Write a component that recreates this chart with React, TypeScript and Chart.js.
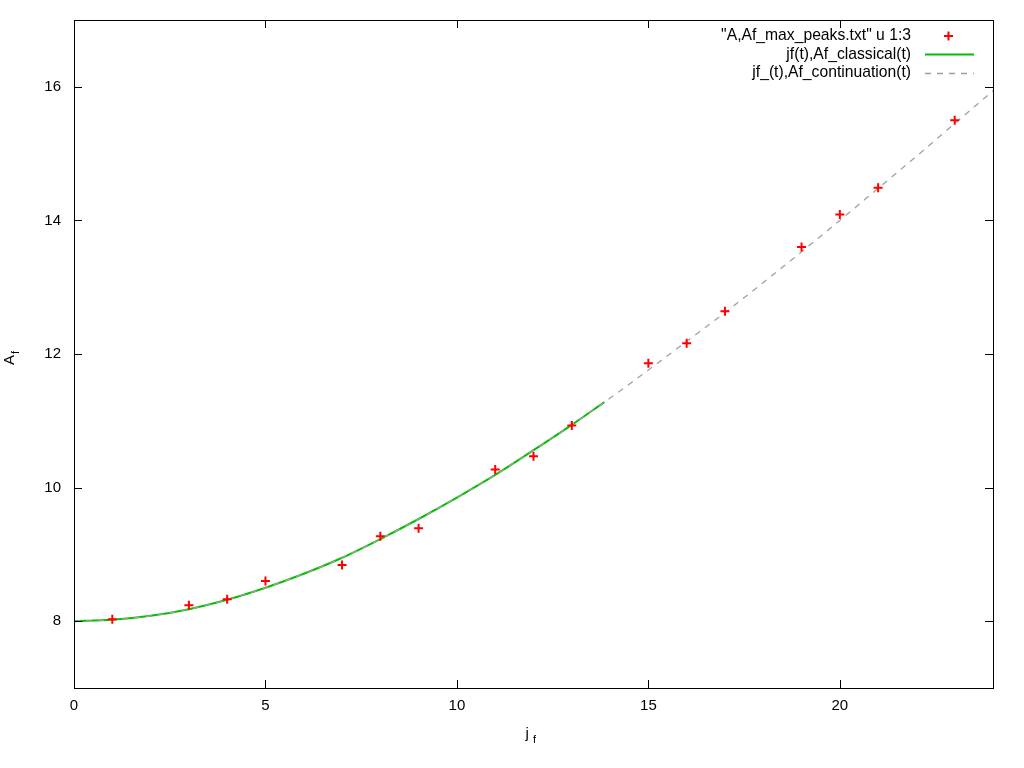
import React, { useEffect, useRef } from "react";
import { Chart, registerables } from "chart.js";

Chart.register(...registerables);

// Data
const PEAK_J = [1, 3, 4, 5, 7, 8, 9, 11, 12, 13, 15, 16, 17, 19, 20, 21, 23];
const PEAK_A = [8.03, 8.24, 8.33, 8.6, 8.84, 9.27, 9.39, 10.27, 10.47, 10.93, 11.86, 12.16, 12.64, 13.6, 14.09, 14.49, 15.5];

const CLASSICAL_J = [0, 1, 2, 3, 4, 5, 6, 7, 8, 9, 10, 11, 12, 13, 13.85];
const CLASSICAL_A = [8.0, 8.02, 8.08, 8.18, 8.32, 8.5, 8.71, 8.95, 9.23, 9.53, 9.85, 10.19, 10.56, 10.94, 11.28];

const CONT_J = [0, 1, 2, 3, 4, 5, 6, 7, 8, 9, 10, 11, 12, 13, 14, 15, 16, 17, 18, 19, 20, 21, 22, 23, 24];
const CONT_A = [8.0, 8.02, 8.08, 8.18, 8.32, 8.5, 8.71, 8.95, 9.23, 9.53, 9.85, 10.19, 10.56, 10.94, 11.34, 11.76, 12.19, 12.62, 13.07, 13.53, 14.0, 14.48, 14.96, 15.45, 15.94];

const X_TICKS = [0, 5, 10, 15, 20];
const Y_TICKS = [8, 10, 12, 14, 16];

const SERIES_LABELS = ['"A,Af_max_peaks.txt" u 1:3', "jf(t),Af_classical(t)", "jf_(t),Af_continuation(t)"];

const FONT = '"Liberation Sans", Arial, sans-serif';
const RED = "#ff0000";
const GREEN = "#00c000";
const GRAY = "#a0a0a0";
const DASH = [6, 6];

const gnuplotFrame = {
  id: "gnuplotFrame",
  afterDraw(chart: any) {
    const ctx: CanvasRenderingContext2D = chart.ctx;
    const { left, right, top, bottom } = chart.chartArea;
    const xs = chart.scales.x;
    const ys = chart.scales.y;
    ctx.save();
    ctx.strokeStyle = "#000";
    ctx.lineWidth = 1;
    ctx.setLineDash([]);
    // border
    ctx.strokeRect(Math.round(left) + 0.5, Math.round(top) + 0.5, Math.round(right - left), Math.round(bottom - top));
    // inward ticks on all sides
    const TL = 8;
    ctx.beginPath();
    for (const v of X_TICKS) {
      const px = Math.round(xs.getPixelForValue(v)) + 0.5;
      ctx.moveTo(px, bottom);
      ctx.lineTo(px, bottom - TL);
      ctx.moveTo(px, top);
      ctx.lineTo(px, top + TL);
    }
    for (const v of Y_TICKS) {
      const py = Math.round(ys.getPixelForValue(v)) + 0.5;
      ctx.moveTo(left, py);
      ctx.lineTo(left + TL, py);
      ctx.moveTo(right, py);
      ctx.lineTo(right - TL, py);
    }
    ctx.stroke();

    // axis titles
    ctx.fillStyle = "#000";
    ctx.textBaseline = "alphabetic";
    ctx.textAlign = "left";
    ctx.font = `15px ${FONT}`;
    const cx = (left + right) / 2;
    ctx.fillText("j", cx - 8, 738);
    ctx.font = `11px ${FONT}`;
    ctx.fillText("f", cx - 0.5, 743);

    ctx.save();
    ctx.translate(14, 365);
    ctx.rotate(-Math.PI / 2);
    ctx.font = `15px ${FONT}`;
    ctx.fillText("A", 0, 0);
    ctx.font = `11px ${FONT}`;
    ctx.fillText("f", 11, 5);
    ctx.restore();

    // legend
    ctx.font = `15.7px ${FONT}`;
    ctx.textAlign = "right";
    ctx.textBaseline = "middle";
    const rows = [35.5, 54.5, 73];
    const tx = 911;
    chart.data.datasets.forEach((ds: any, i: number) => {
      ctx.fillStyle = "#000";
      ctx.fillText(ds.label, tx, rows[i]);
    });
    // sample: points
    ctx.strokeStyle = RED;
    ctx.lineWidth = 2;
    ctx.beginPath();
    ctx.moveTo(944, rows[0] + 0.5);
    ctx.lineTo(953, rows[0] + 0.5);
    ctx.moveTo(948.5, rows[0] - 4);
    ctx.lineTo(948.5, rows[0] + 5);
    ctx.stroke();
    // green line
    ctx.strokeStyle = GREEN;
    ctx.lineWidth = 2;
    ctx.beginPath();
    ctx.moveTo(925, rows[1]);
    ctx.lineTo(974, rows[1]);
    ctx.stroke();
    // gray dashed
    ctx.strokeStyle = GRAY;
    ctx.lineWidth = 1.3;
    ctx.setLineDash(DASH);
    ctx.beginPath();
    ctx.moveTo(925, rows[2] + 0.5);
    ctx.lineTo(974, rows[2] + 0.5);
    ctx.stroke();
    ctx.restore();
  },
};

export default function App() {
  const ref = useRef<HTMLCanvasElement | null>(null);
  useEffect(() => {
    document.body.style.margin = "0";
    const canvas = ref.current;
    if (!canvas) return;
    const chart = new Chart(canvas, {
      type: "scatter",
      data: {
        datasets: [
          {
            label: SERIES_LABELS[0],
            data: PEAK_J.map((x, i) => ({ x, y: PEAK_A[i] })),
            pointStyle: "cross",
            radius: 4.5,
            pointBorderWidth: 2,
            borderColor: RED,
            backgroundColor: RED,
            showLine: false,
            order: 0,
          } as any,
          {
            label: SERIES_LABELS[1],
            data: CLASSICAL_J.map((x, i) => ({ x, y: CLASSICAL_A[i] })),
            showLine: true,
            borderColor: GREEN,
            borderWidth: 2,
            pointRadius: 0,
            cubicInterpolationMode: "monotone",
            order: 2,
          } as any,
          {
            label: SERIES_LABELS[2],
            data: CONT_J.map((x, i) => ({ x, y: CONT_A[i] })),
            showLine: true,
            borderColor: GRAY,
            borderWidth: 1.3,
            borderDash: DASH,
            pointRadius: 0,
            cubicInterpolationMode: "monotone",
            order: 1,
          } as any,
        ],
      },
      options: {
        responsive: false,
        animation: false,
        layout: { padding: { left: 0, top: 20, right: 31, bottom: 0 } },
        plugins: {
          legend: { display: false },
          tooltip: { enabled: false },
        },
        scales: {
          x: {
            type: "linear",
            min: 0,
            max: 24,
            afterBuildTicks: (s: any) => {
              s.ticks = X_TICKS.map((v) => ({ value: v }));
            },
            afterFit: (s: any) => {
              s.height = 80;
              s.paddingLeft = 0;
              s.paddingRight = 0;
            },
            grid: { display: false, drawTicks: false },
            border: { display: false },
            ticks: {
              padding: 9,
              color: "#000",
              font: { family: FONT, size: 15 },
              maxRotation: 0,
            },
          },
          y: {
            type: "linear",
            min: 7,
            max: 17,
            afterBuildTicks: (s: any) => {
              s.ticks = Y_TICKS.map((v) => ({ value: v }));
            },
            afterFit: (s: any) => {
              s.width = 74;
              s.paddingTop = 0;
              s.paddingBottom = 0;
            },
            grid: { display: false, drawTicks: false },
            border: { display: false },
            ticks: {
              padding: 13,
              color: "#000",
              font: { family: FONT, size: 15 },
            },
          },
        },
      },
      plugins: [gnuplotFrame],
    });
    return () => chart.destroy();
  }, []);
  return <canvas ref={ref} width={1024} height={768} style={{ display: "block" }} />;
}
